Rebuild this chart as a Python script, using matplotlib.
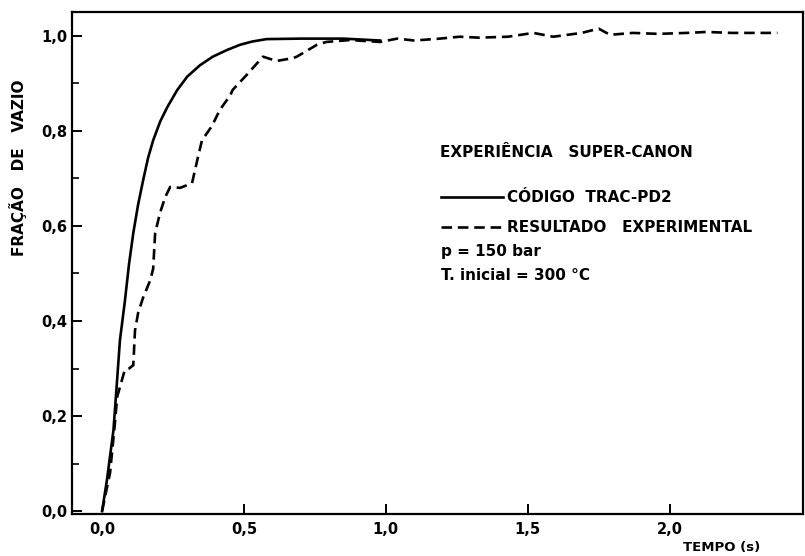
import matplotlib
matplotlib.use("Agg")
import matplotlib.pyplot as plt
from matplotlib.lines import Line2D
from matplotlib.ticker import FixedLocator, FuncFormatter

# TRAC-PD2 code result (solid)
t_trac = [0.0, 0.017, 0.04, 0.053, 0.063, 0.08, 0.095, 0.11, 0.127, 0.145,
          0.162, 0.18, 0.205, 0.23, 0.265, 0.30, 0.345, 0.39, 0.44, 0.486,
          0.53, 0.58, 0.70, 0.85, 0.98]
v_trac = [0.0, 0.065, 0.17, 0.276, 0.36, 0.44, 0.52, 0.585, 0.645, 0.697,
          0.743, 0.78, 0.82, 0.85, 0.886, 0.914, 0.938, 0.956, 0.970, 0.981,
          0.988, 0.993, 0.994, 0.994, 0.99]

# experimental result (dashed)
t_exp = [0.0, 0.028, 0.046, 0.053, 0.07, 0.08, 0.095, 0.11, 0.116, 0.127,
         0.145, 0.17, 0.18, 0.187, 0.204, 0.222, 0.24, 0.275, 0.317, 0.338,
         0.352, 0.387, 0.415, 0.44, 0.45, 0.46, 0.51, 0.567, 0.615, 0.673,
         0.686, 0.757, 0.79, 0.873, 0.98, 1.04, 1.1, 1.19, 1.26, 1.33,
         1.43, 1.52, 1.59, 1.69, 1.75, 1.79, 1.87, 1.96, 2.06, 2.13,
         2.22, 2.38]
v_exp = [0.0, 0.08, 0.19, 0.24, 0.276, 0.297, 0.30, 0.307, 0.38, 0.417,
         0.45, 0.486, 0.51, 0.585, 0.627, 0.66, 0.682, 0.68, 0.69, 0.745,
         0.78, 0.81, 0.844, 0.865, 0.872, 0.886, 0.918, 0.956, 0.947, 0.953,
         0.956, 0.981, 0.987, 0.991, 0.987, 0.994, 0.99, 0.994, 0.998, 0.996,
         0.998, 1.006, 0.998, 1.006, 1.015, 1.002, 1.006, 1.004, 1.006, 1.008,
         1.006, 1.006]

x_ticks = [0.0, 0.5, 1.0, 1.5, 2.0]
y_ticks = [0.0, 0.2, 0.4, 0.6, 0.8, 1.0]
y_minor = [0.1, 0.3, 0.5, 0.7, 0.9]

W, H = 805, 556
fig = plt.figure(figsize=(W / 100, H / 100), dpi=100)
ax = fig.add_axes([72 / W, 1 - 514 / H, (803 - 72) / W, (514 - 12) / H])

lw = 1.9
dash = (0, (4, 2.2))
ax.plot(t_trac, v_trac, color="black", lw=lw, solid_joinstyle="round")
ax.plot(t_exp, v_exp, color="black", lw=lw, linestyle=dash)

ax.set_xlim(-0.106, 2.47)
ax.set_ylim(-0.006, 1.05)

for s in ax.spines.values():
    s.set_linewidth(1.6)

fnt = dict(family="DejaVu Sans", weight="bold", size=11)
comma = FuncFormatter(lambda v, p: f"{v:.1f}".replace(".", ","))

ax.xaxis.set_major_locator(FixedLocator(x_ticks))
ax.xaxis.set_major_formatter(comma)
ax.yaxis.set_major_locator(FixedLocator(y_ticks))
ax.yaxis.set_major_formatter(comma)
ax.yaxis.set_minor_locator(FixedLocator(y_minor))
ax.tick_params(axis="both", which="major", direction="in", length=7, width=1.4,
               labelsize=10.5)
ax.tick_params(axis="y", which="minor", direction="in", length=5, width=1.2)
ax.tick_params(axis="x", pad=6)
for lab in ax.get_xticklabels() + ax.get_yticklabels():
    lab.set_fontweight("bold")
ax.xaxis.get_major_ticks()[0].tick1line.set_visible(False)

def px(x, y):
    return x / W, 1 - y / H

fig.text(*px(18, 168), "FRAÇÃO   DE   VAZIO", rotation=90, ha="center",
         va="center", **fnt)
fig.text(*px(683, 548), "TEMPO (s)", ha="left", va="center",
         family="DejaVu Sans", weight="bold", size=9.5)

fig.text(*px(440, 152), "EXPERIÊNCIA   SUPER-CANON", ha="left", va="center", **fnt)
fig.add_artist(Line2D([441 / W, 503 / W], [1 - 197 / H] * 2, color="black",
                      lw=lw, transform=fig.transFigure))
fig.text(*px(507, 197), "CÓDIGO  TRAC-PD2", ha="left", va="center", **fnt)
fig.add_artist(Line2D([441 / W, 503 / W], [1 - 227 / H] * 2, color="black",
                      lw=lw, linestyle=dash, transform=fig.transFigure))
fig.text(*px(507, 227), "RESULTADO   EXPERIMENTAL", ha="left", va="center", **fnt)
fig.text(*px(441, 251), "p = 150 bar", ha="left", va="center", **fnt)
fig.text(*px(441, 276), "T. inicial = 300 °C", ha="left", va="center", **fnt)

fig.savefig("out.png", dpi=100)
